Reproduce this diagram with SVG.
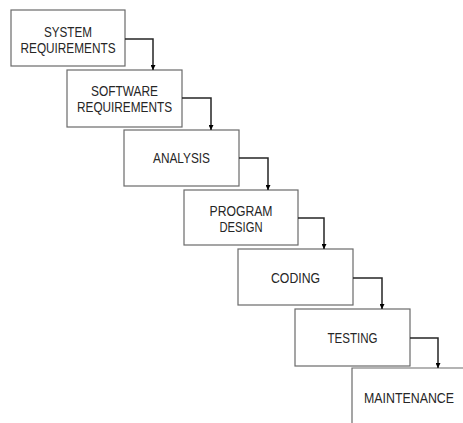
<svg xmlns="http://www.w3.org/2000/svg" width="463" height="423" viewBox="0 0 463 423">
<defs>
<style>
.box{fill:#ffffff;stroke:#6a6a6a;stroke-width:1.2}
.lbl{font-family:"Liberation Sans",Arial,sans-serif;font-size:14px;fill:#262626;text-anchor:middle}
.conn{fill:none;stroke:#262626;stroke-width:1.5}
</style>
<marker id="arr" markerUnits="userSpaceOnUse" markerWidth="6" markerHeight="5" refX="5" refY="2.5" orient="auto">
<path d="M0,0 L5,2.5 L0,5 Z" fill="#000"/>
</marker>
</defs>
<rect width="463" height="423" fill="#ffffff"/>
<g id="node-system">
<rect class="box" x="11" y="10" width="114" height="56"/>
<text class="lbl" x="68" y="37" textLength="48" lengthAdjust="spacingAndGlyphs">SYSTEM</text>
<text class="lbl" x="68" y="52.5" textLength="95" lengthAdjust="spacingAndGlyphs">REQUIREMENTS</text>
</g>
<g id="node-software">
<rect class="box" x="67" y="70" width="115" height="57"/>
<text class="lbl" x="124.5" y="96" textLength="67" lengthAdjust="spacingAndGlyphs">SOFTWARE</text>
<text class="lbl" x="124.5" y="112" textLength="95" lengthAdjust="spacingAndGlyphs">REQUIREMENTS</text>
</g>
<g id="node-analysis">
<rect class="box" x="124" y="130" width="115" height="56"/>
<text class="lbl" x="181.5" y="163" textLength="57" lengthAdjust="spacingAndGlyphs">ANALYSIS</text>
</g>
<g id="node-design">
<rect class="box" x="184" y="190" width="114" height="55"/>
<text class="lbl" x="241" y="216" textLength="63" lengthAdjust="spacingAndGlyphs">PROGRAM</text>
<text class="lbl" x="241" y="232" textLength="43" lengthAdjust="spacingAndGlyphs">DESIGN</text>
</g>
<g id="node-coding">
<rect class="box" x="238" y="249" width="115" height="56"/>
<text class="lbl" x="295.5" y="283" textLength="49" lengthAdjust="spacingAndGlyphs">CODING</text>
</g>
<g id="node-testing">
<rect class="box" x="295" y="309" width="115" height="57"/>
<text class="lbl" x="352.5" y="343" textLength="50" lengthAdjust="spacingAndGlyphs">TESTING</text>
</g>
<g id="node-maintenance">
<path class="box" d="M352,423 V368 H463"/>
<text class="lbl" x="409" y="403" textLength="90" lengthAdjust="spacingAndGlyphs">MAINTENANCE</text>
</g>
<g id="connectors">
<path class="conn" marker-end="url(#arr)" d="M125,39 H153 V70"/>
<path class="conn" marker-end="url(#arr)" d="M182,98 H211 V130"/>
<path class="conn" marker-end="url(#arr)" d="M239,158 H268 V190"/>
<path class="conn" marker-end="url(#arr)" d="M298,218 H324 V249"/>
<path class="conn" marker-end="url(#arr)" d="M353,278 H382 V309"/>
<path class="conn" marker-end="url(#arr)" d="M410,338 H438 V368"/>
</g>
</svg>
